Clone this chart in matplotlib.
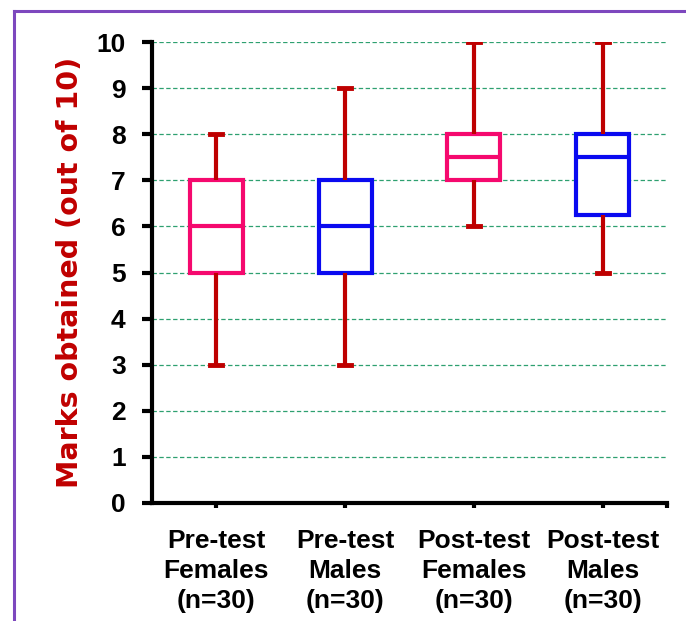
import matplotlib
matplotlib.use('Agg')
import matplotlib.pyplot as plt
from matplotlib.lines import Line2D

# box stats
groups = ['Pre-test\nFemales\n(n=30)', 'Pre-test\nMales\n(n=30)',
          'Post-test\nFemales\n(n=30)', 'Post-test\nMales\n(n=30)']
whislo = [3, 3, 6, 5]
q1 = [5, 5, 7, 6.25]
med = [6, 6, 7.5, 7.5]
q3 = [7, 7, 8, 8]
whishi = [8, 9, 10, 10]
box_colors = ['#F5096E', '#0A0AF0', '#F5096E', '#0A0AF0']
yticks = list(range(0, 11))

whisker_color = '#BE0000'
label_color = '#C00000'

plt.rcParams['font.family'] = ['Liberation Sans', 'DejaVu Sans']

fig = plt.figure(figsize=(6.86, 6.21), dpi=100)
ax = fig.add_axes([152 / 686, 1 - 503 / 621, 515 / 686, 461 / 621])

stats = []
for i in range(len(groups)):
    stats.append(dict(med=med[i], q1=q1[i], q3=q3[i], whislo=whislo[i],
                      whishi=whishi[i], fliers=[], label=groups[i]))

arts = ax.bxp(stats, positions=range(1, len(groups) + 1), widths=0.41,
              showfliers=False, patch_artist=True, capwidths=0.095,
              boxprops=dict(linewidth=3, facecolor='white'),
              whiskerprops=dict(color=whisker_color, linewidth=3, solid_capstyle='butt'),
              capprops=dict(color=whisker_color, linewidth=3.5),
              medianprops=dict(linewidth=3), zorder=3)

for i, c in enumerate(box_colors):
    arts['boxes'][i].set_edgecolor(c)
    arts['medians'][i].set_color(c)

ax.set_xlim(0.5, 4.5)
ax.set_ylim(0, 10)
ax.set_yticks(yticks)

# dashed green grid
for y in yticks[1:]:
    ax.axhline(y, color='#2EA070', linewidth=0.9, dashes=(3.5, 2), zorder=1)

for side in ['top', 'right']:
    ax.spines[side].set_visible(False)
for side in ['left', 'bottom']:
    ax.spines[side].set_linewidth(3)
    ax.spines[side].set_zorder(4)

ax.tick_params(axis='y', length=7, width=3, pad=12, labelsize=19)
ax.tick_params(axis='x', length=3.5, width=3, pad=15, labelsize=19)
ax.set_xticks([4.5], minor=True)
ax.tick_params(axis='x', which='minor', length=3.5, width=3)
for lab in ax.get_yticklabels() + ax.get_xticklabels():
    lab.set_fontweight('bold')
for lab in ax.get_xticklabels():
    lab.set_linespacing(1.32)

ax.set_ylabel('Marks obtained (out of 10)', color=label_color, fontsize=20.5,
              fontweight='bold', family=['DejaVu Sans'], va='center')
ax.yaxis.set_label_coords(-0.16, 0.5)

# purple frame
bx = 14 / 686
by = 1 - 11 / 621
fig.add_artist(Line2D([bx, bx], [-0.02, by], color='#7D48BE', linewidth=2.2))
fig.add_artist(Line2D([bx, 1.02], [by, by], color='#7D48BE', linewidth=2.2))

plt.savefig('out.png', dpi=100)
plt.close()
